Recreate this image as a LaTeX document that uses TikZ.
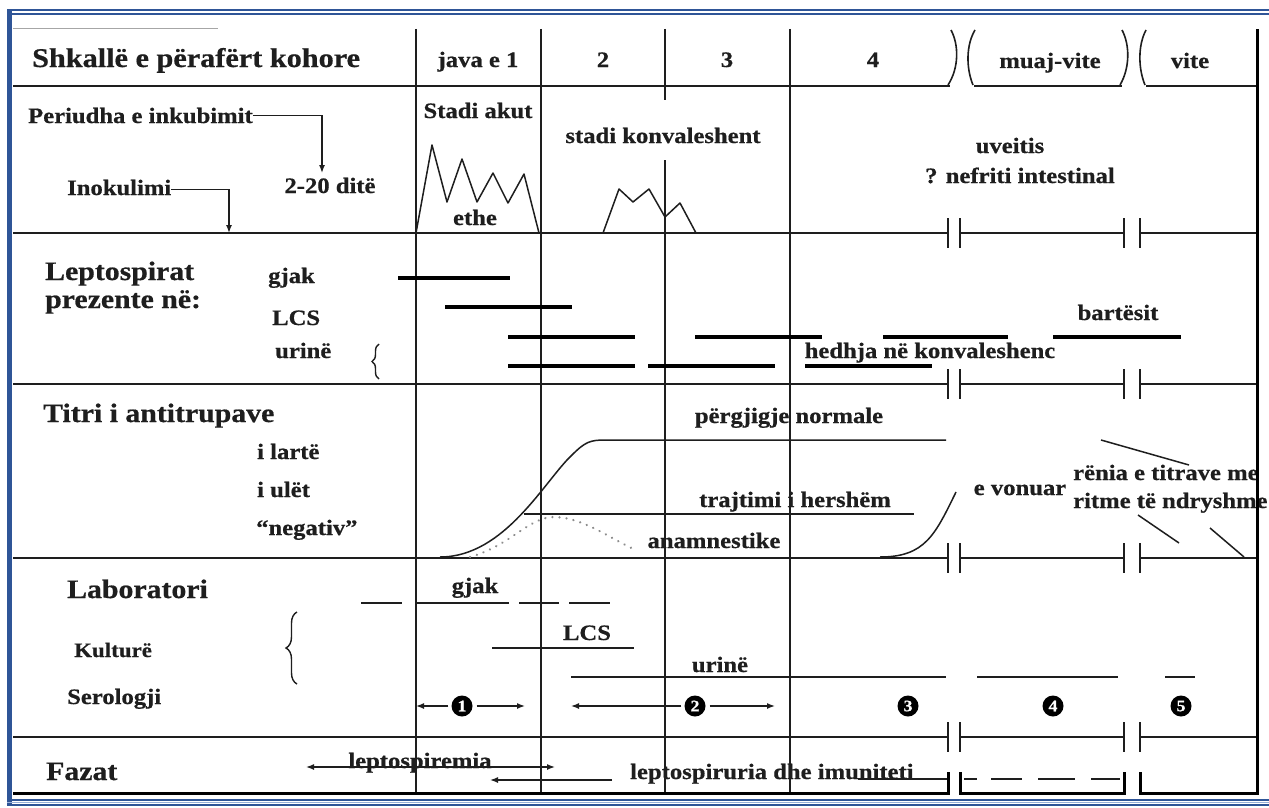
\documentclass[tikz,border=0pt]{standalone}
\usepackage{fontspec}
\setmainfont{Liberation Serif}[FakeStretch=1.12, BoldFeatures={FakeBold=0.6}]
\usetikzlibrary{arrows.meta,decorations.pathreplacing}

\definecolor{framebl}{RGB}{47,85,151}
\definecolor{framelt}{RGB}{150,175,215}
\definecolor{ink}{RGB}{30,30,30}

\tikzset{
  rowrule/.style={draw=ink, line width=1.8pt},
  vline/.style={draw=ink, line width=1.4pt},
  brk/.style={draw=ink, line width=1.6pt},
  frm/.style={draw=black, line width=3pt, line join=miter},
  spanbar/.style={draw=black, line width=3.2pt},
  labline/.style={draw=ink, line width=1.8pt},
  trace/.style={draw=ink, line width=1.5pt, line join=round},
  dotc/.style={draw=gray!90, line width=2.4pt, line cap=round, dash pattern=on 0.1pt off 7pt},
  txt/.style={inner sep=0pt, text=ink, font=\bfseries\fontsize{22}{24}\selectfont},
  ttl/.style={inner sep=0pt, text=ink, font=\bfseries\fontsize{26.6}{28}\selectfont},
  arr/.style={draw=ink, line width=1.4pt, -{Latex[length=8pt,width=6pt]}},
  darr/.style={draw=ink, line width=1.4pt, {Latex[length=8pt,width=6pt]}-{Latex[length=8pt,width=6pt]}},
  numc/.style={circle, fill=black, inner sep=0pt, minimum size=21pt, text=white,
    font=\bfseries\fontsize{16}{16}\selectfont},
  brace/.style={draw=ink, line width=1.4pt, decorate},
}

\begin{document}
\begin{tikzpicture}[x=1pt,y=-1pt]
\useasboundingbox (0,0) rectangle (1269,808);
\fill[white] (0,0) rectangle (1269,808);

% ---- blue outer frame ----
\fill[framebl] (7,9) rectangle (12,806);
\draw[framebl, line width=1.6pt] (7,9.8) -- (1269,9.8);
\draw[framebl, line width=2pt] (12,14) -- (1269,14);
\draw[framebl, line width=1.6pt] (7,800) -- (1269,800);
\draw[framelt, line width=1.2pt] (7,802.5) -- (1269,802.5);
\draw[framebl, line width=1.6pt] (7,805) -- (1269,805);

% ---- table rules ----
\draw[gray!70, line width=1pt] (13,29) -- (218,29);
\draw[rowrule] (13,86) -- (950,86) (974,86) -- (1122,86) (1146,86) -- (1257,86);
\draw[brk] (951,30) .. controls (959,45) and (959,68) .. (948,85);
\draw[brk] (975,30) .. controls (966,45) and (966,68) .. (973,85);
\draw[brk] (1122,30) .. controls (1130,45) and (1130,68) .. (1120,85);
\draw[brk] (1146,30) .. controls (1138,45) and (1138,68) .. (1145,85);

\foreach \yy in {233,384,558,737}{
  \draw[rowrule] (13,\yy) -- (948,\yy) (960,\yy) -- (1124,\yy) (1140,\yy) -- (1257,\yy);
  \draw[brk] (948,\yy-15) -- (948,\yy+15) (960,\yy-15) -- (960,\yy+15)
             (1124,\yy-15) -- (1124,\yy+15) (1140,\yy-15) -- (1140,\yy+15);
}

\draw[vline] (416,29) -- (416,793);
\draw[vline] (541,29) -- (541,793);
\draw[vline] (665,29) -- (665,100) (665,160) -- (665,793);
\draw[vline] (790,29) -- (790,793);

% ---- header ----
\node[ttl, font=\bfseries\fontsize{27}{28}\selectfont, anchor=base west] (hdr) at (32,67) {Shkallë e përafërt kohore};
\node[txt, anchor=base] (wk1) at (478,67) {java e 1};
\node[txt, anchor=base] (wk2) at (603,67) {2};
\node[txt, anchor=base] (wk3) at (727,67) {3};
\node[txt, anchor=base] (wk4) at (873,67) {4};
\node[txt, anchor=base] (wkm) at (1050,68) {muaj-vite};
\node[txt, anchor=base] (wkv) at (1190,68) {vite};

% ---- clinical course ----
\node[txt, anchor=base west] (per) at (28,123) {Periudha e inkubimit};
\node[txt, anchor=base] (dite) at (330,193) {2-20 ditë};
\node[txt, anchor=base west] (ino) at (67,195) {Inokulimi};
\coordinate (incTip) at (322,173);
\coordinate (inoTip) at (229,233);
\draw[arr] (per.east) -| (incTip);
\draw[arr] ([yshift=-2pt]ino.east) -| (inoTip);

\node[txt, anchor=base] (akut) at (478,118) {Stadi akut};
\node[txt, anchor=base] (konv) at (663,143) {stadi konvaleshent};
\node[txt, anchor=base] (ethe) at (475,225) {ethe};
\node[txt, anchor=base] (uve) at (1010,153) {uveitis};
\node[txt, anchor=base] (nef) at (1020,183) {? nefriti intestinal};

\draw[trace] (416,233) -- (432,145) -- (447,202) -- (462,159) -- (477,202)
  -- (493,173) -- (508,203) -- (524,174) -- (539,233);
\draw[trace] (603,233) -- (619,189) -- (633,202) -- (649,189) -- (665,217)
  -- (680,203) -- (696,233);

% ---- leptospires present ----
\node[ttl, anchor=base west] (lepto) at (45,280) {Leptospirat};
\node[ttl, anchor=base west] (prez) at (45,308) {prezente në:};
\node[txt, anchor=base west] (lgjak) at (268,283) {gjak};
\node[txt, anchor=base west] (llcs) at (272,325) {LCS};
\node[txt, anchor=base west] (lurine) at (275,358) {urinë};
\draw[brace, decoration={brace, amplitude=7pt}] (379,379) -- (379,344);

\draw[spanbar] (398,278) -- (510,278);
\draw[spanbar] (445,307) -- (572,307);
\draw[spanbar] (508,337) -- (635,337) (695,337) -- (822,337) (883,337) -- (1008,337) (1053,337) -- (1181,337);
\draw[spanbar] (508,366) -- (635,366) (648,366) -- (775,366) (805,366) -- (932,366);
\node[txt, anchor=base] (hedhja) at (930,358) {hedhja në konvaleshenc};
\node[txt, anchor=base] (bart) at (1118,320) {bartësit};

% ---- antibody titre ----
\node[ttl, anchor=base west] (titri) at (43,422) {Titri i antitrupave};
\node[txt, anchor=base west] (ilarte) at (257,459) {i lartë};
\node[txt, anchor=base west] (iulet) at (257,497) {i ulët};
\node[txt, anchor=base west] (neg) at (256,535) {“negativ”};

\draw[trace] (440,557) .. controls (505,557) and (545,480) .. (572,455)
  .. controls (585,442) and (590,440) .. (605,440) -- (946,440);
\draw[trace] (524,514) -- (914,514);
\draw[dotc] (470,557) .. controls (510,546) and (530,516) .. (555,517)
  .. controls (585,518) and (612,540) .. (636,550);
\draw[trace] (880,557) .. controls (925,557) and (935,535) .. (956,492);
\draw[trace] (1101,440) -- (1189,465);
\draw[trace] (1138,515) -- (1179,543);
\draw[trace] (1210,528) -- (1244,557);

\node[txt, anchor=base] (normal) at (789,423) {përgjigje normale};
\node[txt, anchor=base] (early) at (795,507) {trajtimi i hershëm};
\node[txt, anchor=base] (anam) at (714,548) {anamnestike};
\node[txt, anchor=base] (vonuar) at (1020,495) {e vonuar};
\node[txt, anchor=base west] (renia) at (1073,480) {rënia e titrave me};
\node[txt, anchor=base west] (ritme) at (1073,508) {ritme të ndryshme};

% ---- laboratory ----
\node[ttl, anchor=base west] (lab) at (67,598) {Laboratori};
\node[txt, font=\bfseries\fontsize{20.5}{24}\selectfont, anchor=base west] (kult) at (74,657) {Kulturë};
\node[txt, anchor=base west] (sero) at (67,704) {Serologji};
\draw[brace, decoration={brace, amplitude=11pt}] (297,684) -- (297,612);

\node[txt, anchor=base] (cgjak) at (475,593) {gjak};
\node[txt, anchor=base] (clcs) at (587,640) {LCS};
\node[txt, anchor=base] (curine) at (720,672) {urinë};
\draw[labline] (361,603) -- (402,603) (416,603) -- (509,603) (519,603) -- (559,603) (569,603) -- (610,603);
\draw[labline] (492,648) -- (634,648);
\draw[labline] (571,677) -- (946,677) (977,677) -- (1118,677) (1165,677) -- (1195,677);

\node[numc] (n1) at (462,706) {1};
\node[numc] (n2) at (695,706) {2};
\node[numc] (n3) at (908,706) {3};
\node[numc] (n4) at (1053,706) {4};
\node[numc] (n5) at (1181,706) {5};
\coordinate (a1l) at (416,706);
\coordinate (a1r) at (525,706);
\coordinate (a2l) at (571,706);
\coordinate (a2r) at (775,706);
\draw[arr, shorten <=3pt] (n1) -- (a1l);
\draw[arr, shorten <=4pt] (n1) -- (a1r);
\draw[arr, shorten <=3pt] (n2) -- (a2l);
\draw[arr, shorten <=4pt] (n2) -- (a2r);

% ---- phases ----
\node[ttl, anchor=base west] (fazat) at (46,780) {Fazat};
\coordinate (lsemL) at (306,767);
\coordinate (lsemR) at (555,767);
\draw[darr] (lsemL) -- (lsemR);
\node[txt, anchor=base] (lsem) at (420,768) {leptospiremia};
\coordinate (lsurA) at (612,780);
\coordinate (lsurB) at (490,780);
\draw[arr] (lsurA) -- (lsurB);
\node[txt, anchor=base west] (lsur) at (630,779) {leptospiruria dhe imuniteti};
\draw[labline] (858,779) -- (948,779);
\draw[labline] (964,779) -- (977,779) (991,779) -- (1022,779) (1038,779) -- (1075,779) (1091,779) -- (1120,779);

% ---- outer table frame ----
\draw[frm] (948,772) -- (948,793) -- (13,793);
\draw[frm] (960,772) -- (960,793) -- (1124,793) -- (1124,772);
\draw[frm] (1140,772) -- (1140,793) -- (1257,793) -- (1257,29);
\end{tikzpicture}
\end{document}
